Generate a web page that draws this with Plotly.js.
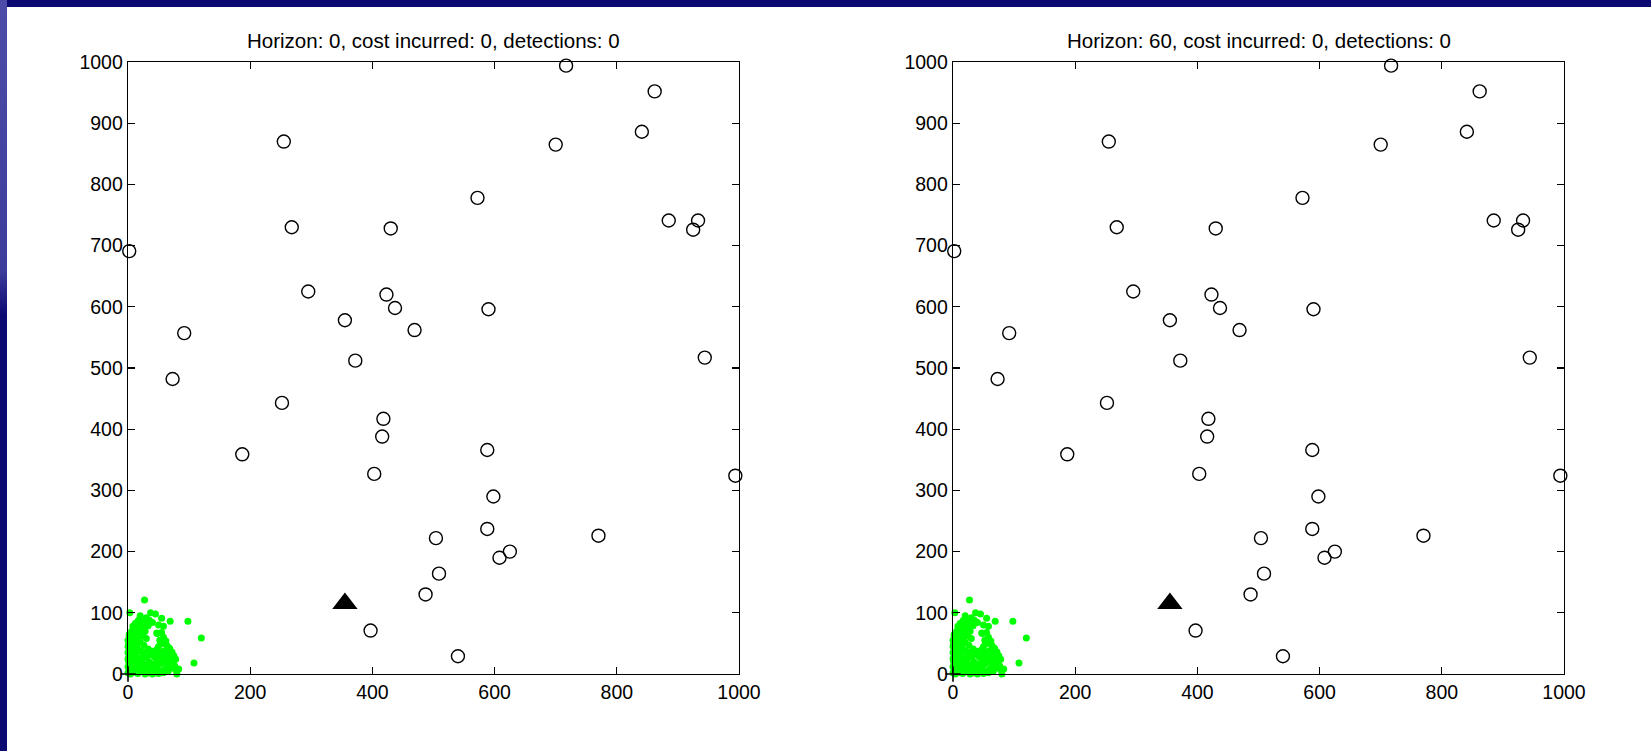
<!DOCTYPE html>
<html>
<head>
<meta charset="utf-8">
<script src="https://cdn.plot.ly/plotly-3.0.1.min.js"></script>
<style>
  html, body { margin: 0; padding: 0; width: 1651px; height: 751px; overflow: hidden; background: #0a0a72; }
  #edge { position: absolute; left: 0; top: 0; width: 7px; height: 751px;
          background: linear-gradient(#4c4ca8 0%, #3c3c9c 36%, #0a0a72 42%, #0a0a72 100%); }
  #chart { position: absolute; left: 7px; top: 7px; width: 1644px; height: 744px; background: #fff; }
</style>
</head>
<body>
<div id="edge"></div>
<div id="chart"></div>
<script>
// Panel headers: planning horizon, cost incurred, detections
const horizons   = [0, 60];
const costs      = [0, 0];
const detections = [0, 0];

// Target locations (open circles)
const targetX = [717, 862, 255, 841, 700, 572, 268, 430, 885, 933, 925, 2, 295, 423, 437, 590,
                 355, 469, 92, 944, 372, 73, 252, 418, 416, 187, 588, 403, 994, 598, 588, 770,
                 504, 625, 608, 509, 487, 397, 540];
const targetY = [994, 952, 870, 886, 865, 778, 730, 728, 741, 741, 726, 691, 625, 620, 598, 596,
                 578, 562, 557, 517, 512, 482, 443, 417, 388, 359, 366, 327, 324, 290, 237, 226,
                 222, 200, 190, 164, 130, 71, 29];

// Sensor position (filled triangle)
const sensorX = [355];
const sensorY = [115];

// Base position (plus sign)
const baseX = [0];
const baseY = [0];

// Particle cloud near the base (green dots)
const particleX = [27, 3, 37, 45, 55, 69, 98, 58, 120, 108, 83,
  17, 22, 30, 40, 12, 8, 15, 25, 33, 50, 20,
  2, 6, 12, 18, 28, 48, 55,
  4, 10, 16, 24, 30, 52, 58, 62,
  1, 8, 14, 20, 26, 50, 56, 64, 68,
  3, 9, 15, 21, 27, 33, 39, 47, 53, 60, 66, 72, 75,
  2, 7, 13, 19, 25, 31, 37, 43, 49, 55, 61, 67, 71, 78,
  1, 5, 11, 17, 23, 29, 35, 41, 47, 53, 59, 64, 70, 76,
  2, 6, 12, 18, 24, 30, 36, 42, 48, 54, 60, 66, 72, 79,
  0, 4, 10, 16, 22, 28, 34, 40, 50, 58, 80,
  0, 0, 0, 0, 0, 2, 5, 6, 4, 7, 3, 10, 12, 14, 9, 16, 22, 26, 35, 20, 30, 47];
const particleY = [121, 100, 100, 98, 91, 86, 86, 78, 59, 18, 8,
  88, 90, 85, 84, 83, 78, 80, 77, 79, 80, 73,
  65, 70, 68, 66, 70, 66, 68,
  58, 60, 56, 62, 58, 55, 60, 54,
  48, 50, 46, 52, 47, 45, 50, 46, 42,
  40, 36, 42, 38, 35, 41, 37, 40, 36, 38, 34, 36, 30,
  30, 27, 31, 26, 30, 27, 32, 28, 31, 26, 29, 25, 22, 24,
  20, 17, 22, 16, 20, 15, 19, 16, 21, 17, 20, 15, 18, 14,
  10, 6, 11, 7, 12, 5, 9, 6, 11, 4, 8, 5, 10, 6,
  2, 0, 3, 1, 4, 0, 2, 0, 1, 2, 0,
  12, 25, 35, 45, 55, 62, 52, 44, 34, 22, 14, 15, 28, 38, 58, 72, 80, 85, 88, 95, 92, 67];

const xTicks = [0, 200, 400, 600, 800, 1000];
const yTicks = [0, 100, 200, 300, 400, 500, 600, 700, 800, 900, 1000];

const font = { family: 'Liberation Sans, Arial, Helvetica, sans-serif', color: '#000' };

function panelTraces(ax) {
  const xa = ax === 1 ? 'x' : 'x' + ax;
  const ya = ax === 1 ? 'y' : 'y' + ax;
  return [
    { type: 'scatter', mode: 'markers', x: targetX, y: targetY, xaxis: xa, yaxis: ya,
      cliponaxis: false, hoverinfo: 'skip',
      marker: { symbol: 'circle-open', size: 13, color: '#000', line: { width: 1.4, color: '#000' } } },
    { type: 'scatter', mode: 'markers', x: particleX, y: particleY, xaxis: xa, yaxis: ya,
      cliponaxis: false, hoverinfo: 'skip',
      marker: { symbol: 'circle', size: 7, color: '#00ff00', line: { width: 0 } } },
    { type: 'scatter', mode: 'markers', x: sensorX, y: sensorY, xaxis: xa, yaxis: ya,
      cliponaxis: false, hoverinfo: 'skip',
      marker: { symbol: 'triangle-up', size: 22, color: '#000', line: { width: 0 } } },
    { type: 'scatter', mode: 'markers', x: baseX, y: baseY, xaxis: xa, yaxis: ya,
      cliponaxis: false, hoverinfo: 'skip',
      marker: { symbol: 'cross-thin-open', size: 11, color: '#000', line: { width: 1.6, color: '#000' } } }
  ];
}

function axis(domain, ticks, anchor) {
  return {
    domain: domain, anchor: anchor, range: [0, 1000], autorange: false,
    tickmode: 'array', tickvals: ticks, ticktext: ticks.map(String),
    ticks: 'inside', ticklen: 7, tickwidth: 1.2, tickcolor: '#000',
    showline: true, linecolor: '#000', linewidth: 1.3, mirror: 'allticks',
    showgrid: false, zeroline: false, fixedrange: true,
    tickfont: Object.assign({ size: 19.5 }, font)
  };
}

const W = 1644, H = 744;
const yDom = [1 - 667 / H, 1 - 55 / H];
const xDom1 = [121 / W, 732 / W];
const xDom2 = [946 / W, 1557 / W];

const annotations = horizons.map((h, i) => ({
  text: 'Horizon: ' + h + ', cost incurred: ' + costs[i] + ', detections: ' + detections[i],
  xref: 'paper', yref: 'paper',
  x: i === 0 ? (xDom1[0] + xDom1[1]) / 2 : (xDom2[0] + xDom2[1]) / 2,
  y: 1 - 34 / H, xanchor: 'center', yanchor: 'middle', showarrow: false,
  font: Object.assign({ size: 20.5 }, font)
}));

const layout = {
  width: W, height: H,
  margin: { l: 0, r: 0, t: 0, b: 0, pad: 0 },
  paper_bgcolor: '#fff', plot_bgcolor: '#fff',
  showlegend: false, font: font,
  xaxis: axis(xDom1, xTicks, 'y'),
  yaxis: axis(yDom, yTicks, 'x'),
  xaxis2: axis(xDom2, xTicks, 'y2'),
  yaxis2: axis(yDom, yTicks, 'x2'),
  annotations: annotations
};

Plotly.newPlot('chart', panelTraces(1).concat(panelTraces(2)), layout,
  { staticPlot: true, displayModeBar: false });
</script>
</body>
</html>
